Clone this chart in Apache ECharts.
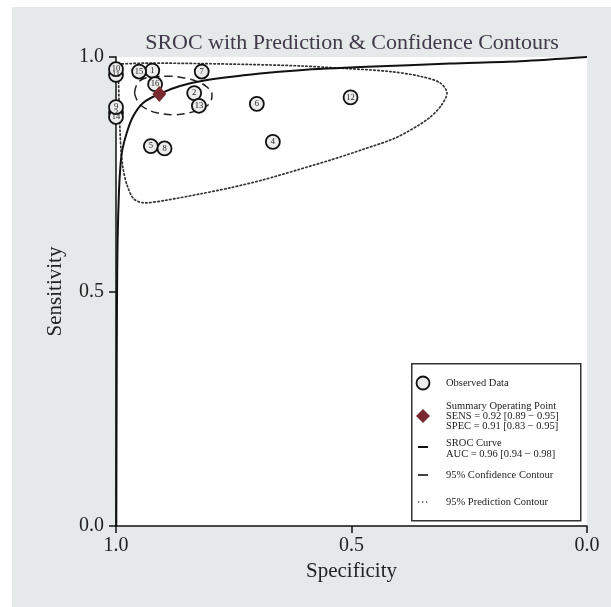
<!DOCTYPE html>
<html><head><meta charset="utf-8">
<script src="https://cdn.jsdelivr.net/npm/echarts@6/dist/echarts.min.js"></script>
<style>
html,body{margin:0;padding:0;background:#fff;}
#bg{position:absolute;left:12px;top:7px;width:599px;height:600px;background:#e6e9e9;}
#c{position:absolute;left:0;top:0;width:611px;height:607px;}
</style>
</head><body><div id="bg"></div><div id="c"></div>
<script>
// ---- data ----
const studyIds  = [3, 14, 11, 1, 2, 4, 5, 6, 7, 8, 12, 13, 15, 16, 9, 10];
const studySpec = [1.0, 1.0, 1.0, 0.923, 0.834, 0.667, 0.926, 0.701, 0.818, 0.897, 0.502, 0.824, 0.951, 0.917, 1.0, 1.0];
const studySens = [0.882, 0.872, 0.962, 0.971, 0.923, 0.819, 0.810, 0.900, 0.969, 0.805, 0.914, 0.896, 0.969, 0.942, 0.893, 0.974];

const summarySpec = [0.908];
const summarySens = [0.921];

const srocSpec = [0.9994, 0.9987, 0.9979, 0.9966, 0.9936, 0.9904, 0.9866, 0.9773, 0.9639, 0.9427, 0.9087, 0.8641, 0.8068, 0.6943, 0.6093, 0.4671, 0.2909, 0.1423, 0.0];
const srocSens = [0.000, 0.269, 0.482, 0.610, 0.716, 0.770, 0.802, 0.838, 0.873, 0.902, 0.921, 0.938, 0.951, 0.965, 0.972, 0.979, 0.986, 0.991, 1.0];

const confSpec = [0.9607, 0.9554, 0.9427, 0.9172, 0.8854, 0.8535, 0.8259, 0.8068, 0.7962, 0.7983, 0.8110, 0.8365, 0.8747, 0.9130, 0.9384, 0.9533, 0.9607];
const confSens = [0.923, 0.942, 0.953, 0.958, 0.959, 0.955, 0.947, 0.936, 0.921, 0.906, 0.893, 0.883, 0.877, 0.881, 0.891, 0.904, 0.923];

const predSpec = [0.9958, 0.9278, 0.8217, 0.7155, 0.6093, 0.5032, 0.4183, 0.3546, 0.3121, 0.2972, 0.3100, 0.3376, 0.4034, 0.4756, 0.5456, 0.6157, 0.6879, 0.7580, 0.8217, 0.8917, 0.9384, 0.9618, 0.9766, 0.9851, 0.9894, 0.9915, 0.9936, 0.9947, 0.9958];
const predSens = [0.985, 0.987, 0.986, 0.984, 0.981, 0.975, 0.969, 0.959, 0.945, 0.923, 0.896, 0.868, 0.829, 0.803, 0.780, 0.759, 0.738, 0.721, 0.708, 0.695, 0.689, 0.697, 0.727, 0.763, 0.802, 0.844, 0.908, 0.951, 0.985];

const xTicks = [1.0, 0.5, 0.0];
const yTicks = [0.0, 0.5, 1.0];

const titleText = 'SROC with Prediction & Confidence Contours';
const xName = 'Specificity';
const yName = 'Sensitivity';
// ---------------

const SERIF = "'Liberation Serif','DejaVu Serif',serif";
const zip = (a, b) => a.map((v, i) => [v, b[i]]);

const chart = echarts.init(document.getElementById('c'), null, {renderer: 'canvas'});

const axisCommon = {
  type: 'value', min: 0, max: 1, interval: 0.5,
  axisLine: {show: true, onZero: false, lineStyle: {color: '#111', width: 1.5}},
  axisTick: {show: true, length: 7, lineStyle: {color: '#111', width: 1.5}},
  splitLine: {show: false},
  nameLocation: 'middle',
  nameTextStyle: {fontFamily: SERIF, fontSize: 21, color: '#222'}
};

const option = {
  backgroundColor: 'transparent',
  animation: false,
  title: {
    text: titleText, left: 347, top: 27, textAlign: 'center',
    textStyle: {fontFamily: SERIF, fontSize: 22, fontWeight: 'normal', color: '#41394a'}
  },
  grid: {left: 116, right: 24, top: 57, bottom: 81, show: true, backgroundColor: '#fff', borderWidth: 0},
  xAxis: Object.assign({}, axisCommon, {
    inverse: true, name: xName, nameGap: 35,
    axisLabel: {margin: 10, fontFamily: SERIF, fontSize: 20, color: '#222',
      formatter: v => (xTicks.indexOf(v) >= 0 ? v.toFixed(1) : '')}
  }),
  yAxis: Object.assign({}, axisCommon, {
    name: yName, nameGap: 50,
    axisLabel: {margin: 12, fontFamily: SERIF, fontSize: 20, color: '#222',
      formatter: v => (yTicks.indexOf(v) >= 0 ? v.toFixed(1) : '')}
  }),
  series: [
    {
      name: '95% Prediction Contour', type: 'line', data: zip(predSpec, predSens),
      symbol: 'none', smooth: 0.3, z: 2,
      lineStyle: {color: '#333', width: 1.7, type: [1.5, 2.5], cap: 'round'}
    },
    {
      name: '95% Confidence Contour', type: 'line', data: zip(confSpec, confSens),
      symbol: 'none', smooth: 0.4, z: 2,
      lineStyle: {color: '#222', width: 1.5, type: [8, 5]}
    },
    {
      name: 'SROC Curve', type: 'line', data: zip(srocSpec, srocSens),
      symbol: 'none', smooth: 0.3, z: 3,
      lineStyle: {color: '#111', width: 2}
    },
    {
      name: 'Observed Data', type: 'scatter', z: 4,
      data: studyIds.map((id, i) => [studySpec[i], studySens[i], id]),
      symbol: 'circle', symbolSize: 14,
      itemStyle: {color: '#ececec', borderColor: '#111', borderWidth: 1.8, opacity: 1},
      label: {show: true, position: 'inside', formatter: p => String(p.data[2]),
        fontFamily: SERIF, fontSize: 8.5, color: '#222'}
    },
    {
      name: 'Summary Operating Point', type: 'scatter', z: 5,
      data: zip(summarySpec, summarySens),
      symbol: 'diamond', symbolSize: [14, 16],
      itemStyle: {color: '#7a2a2e', opacity: 1}
    }
  ],
  graphic: [
    {type: 'rect', left: 411, top: 363, z: 100,
      shape: {x: 0, y: 0, width: 169, height: 157},
      style: {fill: '#fff', stroke: '#333', lineWidth: 1.5}},
    {type: 'circle', z: 101, shape: {cx: 423, cy: 383, r: 6.5},
      style: {fill: '#ececec', stroke: '#111', lineWidth: 1.8}},
    {type: 'polygon', z: 101, shape: {points: [[423, 409], [430, 416], [423, 423], [416, 416]]},
      style: {fill: '#7a2a2e'}},
    {type: 'line', z: 101, shape: {x1: 418, y1: 447, x2: 428, y2: 447},
      style: {stroke: '#111', lineWidth: 2}},
    {type: 'line', z: 101, shape: {x1: 418, y1: 475, x2: 428, y2: 475},
      style: {stroke: '#111', lineWidth: 1.6}},
    {type: 'line', z: 101, shape: {x1: 418, y1: 502, x2: 429, y2: 502},
      style: {stroke: '#444', lineWidth: 1.3, lineDash: [1.3, 2.7]}},
    {type: 'text', z: 101, x: 446, y: 383,
      style: {text: 'Observed Data', font: "10.5px " + SERIF, fill: '#222', verticalAlign: 'middle'}},
    {type: 'text', z: 101, x: 446, y: 416,
      style: {text: 'Summary Operating Point\nSENS = 0.92 [0.89 \u2212 0.95]\nSPEC = 0.91 [0.83 \u2212 0.95]',
        font: "10.5px " + SERIF, lineHeight: 10, fill: '#222', verticalAlign: 'middle'}},
    {type: 'text', z: 101, x: 446, y: 448.5,
      style: {text: 'SROC Curve\nAUC = 0.96 [0.94 \u2212 0.98]',
        font: "10.5px " + SERIF, lineHeight: 11, fill: '#222', verticalAlign: 'middle'}},
    {type: 'text', z: 101, x: 446, y: 475,
      style: {text: '95% Confidence Contour', font: "10.5px " + SERIF, fill: '#222', verticalAlign: 'middle'}},
    {type: 'text', z: 101, x: 446, y: 502,
      style: {text: '95% Prediction Contour', font: "10.5px " + SERIF, fill: '#222', verticalAlign: 'middle'}}
  ]
};

chart.setOption(option);
</script>
</body></html>
